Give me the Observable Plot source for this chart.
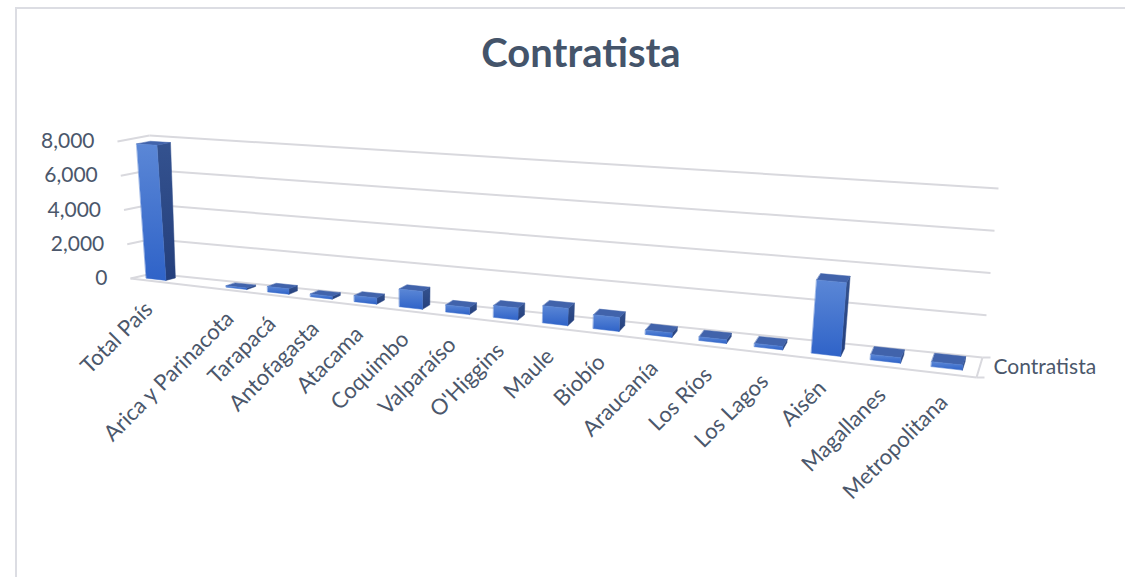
<!DOCTYPE html>
<html>
<head>
<meta charset="utf-8">
<script src="https://cdn.jsdelivr.net/npm/d3@7"></script>
<script src="https://cdn.jsdelivr.net/npm/@observablehq/plot@0.6"></script>
<style>
  html, body { margin: 0; padding: 0; background: #fff; }
  #wrap { position: relative; width: 1125px; height: 577px; overflow: hidden; font-family: Lato, "Open Sans", sans-serif; }
  #frame { position: absolute; left: 15px; top: 7px; width: 1200px; height: 700px; border: 2px solid #dcdde3; box-sizing: border-box; }
  #title { position: absolute; top: 32px; left: 581px; transform: translateX(-50%); font: bold 40px/1 Lato, sans-serif; color: #44546A; white-space: nowrap; }
  #chart { position: absolute; left: 0; top: 0; }
</style>
</head>
<body>
<div id="wrap">
  <div id="frame"></div>
  <div id="chart"></div>
  <div id="title"></div>
</div>
<script>
// ---- data ----
const chartTitle = "Contratista";
const seriesName = "Contratista";
const categories = ["Total País", "", "Arica y Parinacota", "Tarapacá", "Antofagasta", "Atacama", "Coquimbo", "Valparaíso", "O'Higgins", "Maule", "Biobío", "Araucanía", "Los Ríos", "Los Lagos", "Aisén", "Magallanes", "Metropolitana"];
const values = [7800, null, 80, 300, 150, 330, 950, 370, 620, 880, 700, 220, 180, 160, 3500, 250, 230];
const yTicks = [0, 2000, 4000, 6000, 8000];

// ---- 3D perspective frame (layout) ----
const W = 1125, H = 577;
const VMAX = 8000, Q = 1.28, N = categories.length;
const LFACE = {F0: [130, 278], F8: [117, 141], B0: [152, 273], B8: [149, 135]};
const RFACE = {F0: [976, 377], F8: [994, 200], B0: [982, 357], B8: [998, 188]};
const lerp = (a, b, k) => [a[0] + (b[0] - a[0]) * k, a[1] + (b[1] - a[1]) * k];
function facePt(S, z, v) {
  const a = v / VMAX;
  return lerp(lerp(S.F0, S.F8, a), lerp(S.B0, S.B8, a), z);
}
function P(t, z, v) {
  const s = t / (t + Q * (1 - t));
  return lerp(facePt(LFACE, z, v), facePt(RFACE, z, v), s);
}

// ---- build geometry from data ----
const BW = 0.5, Z0 = 0.28, Z1 = 0.72;
const frontFaces = [], sideFaces = [], topFaces = [];
values.forEach((v, i) => {
  if (v == null) return;
  const t0 = (i + 0.5 - BW / 2) / N, t1 = (i + 0.5 + BW / 2) / N;
  const push = (arr, pts) => pts.forEach(p => arr.push({id: i, x: p[0], y: p[1]}));
  push(sideFaces, [P(t1, Z0, 0), P(t1, Z1, 0), P(t1, Z1, v), P(t1, Z0, v)]);
  push(topFaces, [P(t0, Z0, v), P(t1, Z0, v), P(t1, Z1, v), P(t0, Z1, v)]);
  push(frontFaces, [P(t0, Z0, 0), P(t1, Z0, 0), P(t1, Z0, v), P(t0, Z0, v)]);
});

const grid = [];
yTicks.forEach(v => {
  const a = P(0, 0, v), b = P(0, 1, v), c = P(1, 1, v);
  grid.push({x1: a[0], y1: a[1], x2: b[0], y2: b[1]});
  grid.push({x1: b[0], y1: b[1], x2: c[0], y2: c[1]});
});
{
  const a = P(0, 0, 0), b = P(1, 0, 0), c = P(1, 1, 0);
  grid.push({x1: a[0], y1: a[1], x2: b[0], y2: b[1]});
  grid.push({x1: b[0], y1: b[1], x2: c[0], y2: c[1]});
  grid.push({x1: b[0], y1: b[1], x2: b[0] + 8, y2: b[1]});
  grid.push({x1: c[0], y1: c[1], x2: c[0] + 8, y2: c[1]});
}

const catLabels = categories.map((c, i) => {
  const p = P((i + 0.5) / N, 0, 0);
  return {label: c, x: p[0] - 1, y: p[1] + 25};
}).filter(d => d.label);

const tickLabels = yTicks.map(v => {
  const p = P(0, 0, v);
  return {label: d3.format(",")(v), x: p[0] - 23, y: p[1]};
});
const sp = P(1, 0.5, 0);
const seriesLabel = [{label: seriesName, x: sp[0] + 14, y: sp[1]}];

const txt = "#4B576B";
const chart = Plot.plot({
  width: W, height: H, margin: 0,
  x: {domain: [0, W], range: [0, W], axis: null},
  y: {domain: [0, H], range: [0, H], axis: null},
  style: {background: "transparent", fontFamily: "Lato, sans-serif"},
  marks: [
    Plot.link(grid, {x1: "x1", y1: "y1", x2: "x2", y2: "y2", stroke: "#D9D9DE", strokeWidth: 2}),
    Plot.line(sideFaces, {x: "x", y: "y", z: "id", fill: "url(#gSide)", stroke: "url(#gSide)", strokeWidth: 0.5, curve: "linear-closed"}),
    Plot.line(topFaces, {x: "x", y: "y", z: "id", fill: "#4163AB", stroke: "#4163AB", strokeWidth: 0.5, curve: "linear-closed"}),
    Plot.line(frontFaces, {x: "x", y: "y", z: "id", fill: "url(#gFront)", stroke: "url(#gFront)", strokeWidth: 0.5, curve: "linear-closed"}),
    Plot.text(tickLabels, {x: "x", y: "y", text: "label", textAnchor: "end", fontSize: 21, fill: txt}),
    Plot.text(catLabels, {x: "x", y: "y", text: "label", textAnchor: "end", rotate: -45, fontSize: 22, fill: txt}),
    Plot.text(seriesLabel, {x: "x", y: "y", text: "label", textAnchor: "start", fontSize: 21, fill: txt})
  ]
});

const defs = d3.select(chart).insert("defs", ":first-child");
const g1 = defs.append("linearGradient").attr("id", "gFront").attr("x1", 0).attr("y1", 0).attr("x2", 0).attr("y2", 1);
g1.append("stop").attr("offset", 0).attr("stop-color", "#5B87D6");
g1.append("stop").attr("offset", 1).attr("stop-color", "#2F63C8");
const g2 = defs.append("linearGradient").attr("id", "gSide").attr("x1", 0).attr("y1", 0).attr("x2", 0).attr("y2", 1);
g2.append("stop").attr("offset", 0).attr("stop-color", "#34528F");
g2.append("stop").attr("offset", 1).attr("stop-color", "#243F7C");

document.getElementById("chart").appendChild(chart);
document.getElementById("title").textContent = chartTitle;
</script>
</body>
</html>
